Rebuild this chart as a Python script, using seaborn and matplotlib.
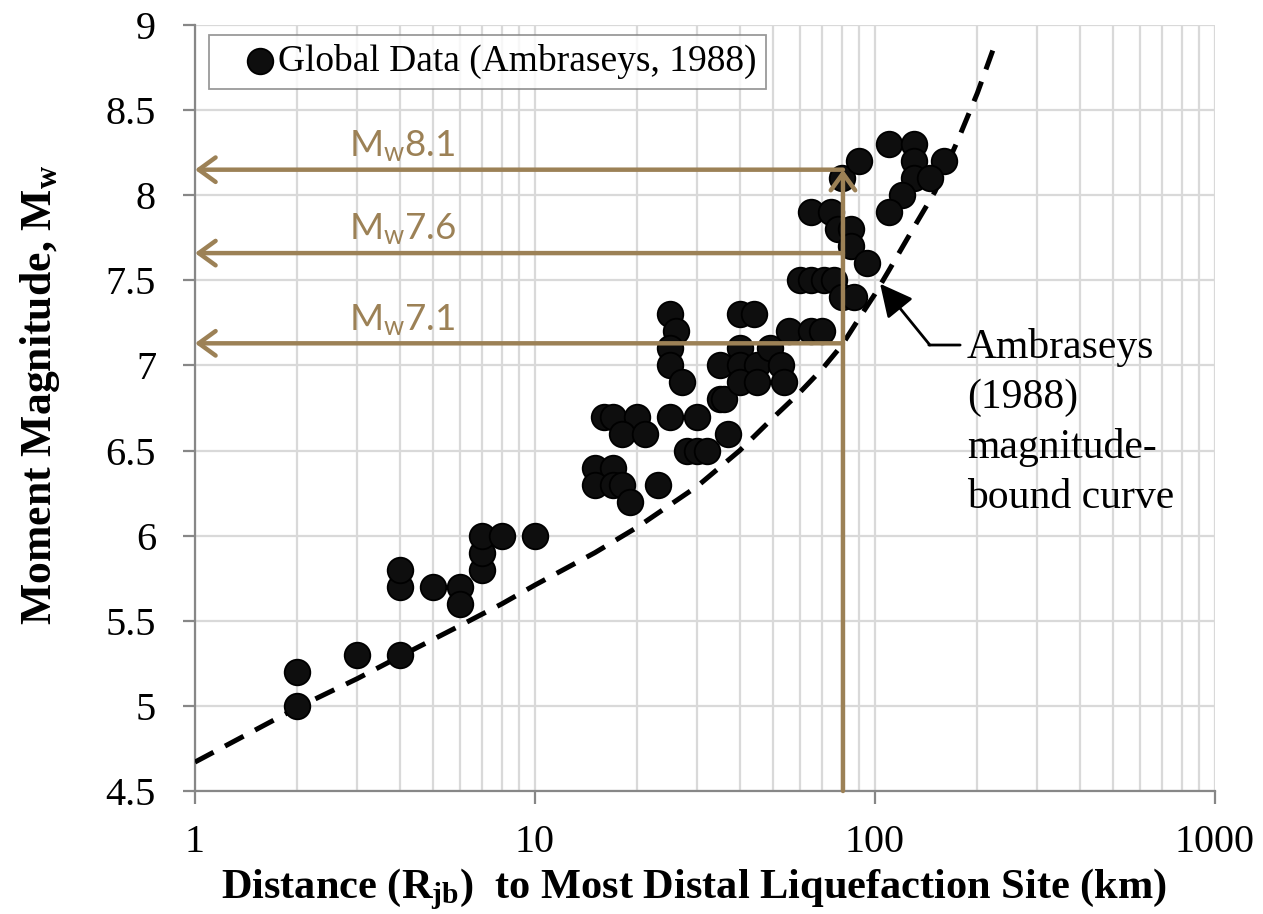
import numpy as np
import pandas as pd
import matplotlib
matplotlib.use("Agg")
import matplotlib.pyplot as plt
from matplotlib.ticker import LogLocator, NullFormatter
import seaborn as sns

# ---------------- data ----------------
dist_km = [2, 2, 3, 4, 4, 4, 5, 6, 6, 7, 7, 7, 8, 10,
           15, 17, 15, 17, 18, 19, 16, 17, 20, 18, 21, 23,
           25, 26, 25, 25, 27, 25, 30, 28, 30, 32, 35, 36, 37, 35,
           40, 44, 40, 40, 45, 40, 45, 49, 53, 54,
           56, 65, 70, 60, 65, 71, 76, 80, 87,
           65, 74, 78, 85, 85, 95, 80, 90,
           110, 130, 130, 160, 130, 145, 120, 110]
magnitude = [5.0, 5.2, 5.3, 5.3, 5.7, 5.8, 5.7, 5.7, 5.6, 5.8, 5.9, 6.0, 6.0, 6.0,
             6.4, 6.4, 6.3, 6.3, 6.3, 6.2, 6.7, 6.7, 6.7, 6.6, 6.6, 6.3,
             7.3, 7.2, 7.1, 7.0, 6.9, 6.7, 6.7, 6.5, 6.5, 6.5, 6.8, 6.8, 6.6, 7.0,
             7.3, 7.3, 7.1, 7.0, 7.0, 6.9, 6.9, 7.1, 7.0, 6.9,
             7.2, 7.2, 7.2, 7.5, 7.5, 7.5, 7.5, 7.4, 7.4,
             7.9, 7.9, 7.8, 7.8, 7.7, 7.6, 8.1, 8.2,
             8.3, 8.3, 8.2, 8.2, 8.1, 8.1, 8.0, 7.9]

# Ambraseys (1988) magnitude-bound curve
curve_dist = [1, 2, 3, 4, 6, 8, 10, 15, 20, 30, 40, 50, 60, 70, 80, 90,
              100, 110, 130, 150, 175, 200, 222]
curve_mag = [4.67, 4.99, 5.16, 5.29, 5.47, 5.60, 5.71, 5.90, 6.05, 6.29, 6.50,
             6.69, 6.84, 6.98, 7.12, 7.28, 7.42, 7.56, 7.81, 8.02, 8.32, 8.60, 8.85]

guide_dist = 80.5
guide_mags = [8.15, 7.66, 7.13]
guide_labels = ["8.1", "7.6", "7.1"]

x_ticks = [1, 10, 100, 1000]
x_tick_labels = ["1", "10", "100", "1000"]
y_ticks = [4.5, 5, 5.5, 6, 6.5, 7, 7.5, 8, 8.5, 9]
y_tick_labels = ["4.5", "5", "5.5", "6", "6.5", "7", "7.5", "8", "8.5", "9"]

legend_label = "Global Data (Ambraseys, 1988)"
curve_note = "Ambraseys\n(1988)\nmagnitude-\nbound curve"

# ---------------- style ----------------
sns.set_theme(style="white")
plt.rcParams["font.family"] = ["Liberation Serif", "DejaVu Serif"]
plt.rcParams["mathtext.fontset"] = "custom"
plt.rcParams["mathtext.rm"] = "Liberation Serif"
plt.rcParams["mathtext.bf"] = "Liberation Serif:bold"
plt.rcParams["mathtext.it"] = "Liberation Serif:italic"
plt.rcParams["mathtext.sf"] = "Lato"
plt.rcParams["text.color"] = "black"
plt.rcParams["axes.labelcolor"] = "black"
plt.rcParams["legend.labelcolor"] = "black"

TAN = "#9C8156"
GRID = "#d9d9d9"
SPINE = "#878787"

fig = plt.figure(figsize=(12.63, 9.14), dpi=100)
ax = fig.add_axes([195 / 1263, 1 - 791 / 914, 1020 / 1263, 766 / 914])

pts = pd.DataFrame({"dist": dist_km, "mag": magnitude})
crv = pd.DataFrame({"dist": curve_dist, "mag": curve_mag})

sns.lineplot(data=crv, x="dist", y="mag", ax=ax, color="black", linewidth=3.6,
             estimator=None, sort=False, legend=False, zorder=3,
             dashes=False)
ax.lines[-1].set_dashes([4.2, 2.6])

sns.scatterplot(data=pts, x="dist", y="mag", ax=ax, s=340, color="#0e0e0e",
                edgecolor="black", linewidth=1.3, label=legend_label, zorder=4)

ax.set_xscale("log")
ax.set_xlim(1, 1000)
ax.set_ylim(4.5, 9)
ax.set_xticks(x_ticks)
ax.set_xticklabels(x_tick_labels)
ax.set_yticks(y_ticks)
ax.set_yticklabels(y_tick_labels)
ax.xaxis.set_minor_locator(LogLocator(base=10, subs=range(2, 10)))
ax.xaxis.set_minor_formatter(NullFormatter())

ax.set_axisbelow(True)
ax.grid(True, which="both", axis="x", color=GRID, linewidth=1.6)
ax.grid(True, which="major", axis="y", color=GRID, linewidth=1.6)

for s in ["top", "right"]:
    ax.spines[s].set_visible(False)
for s in ["left", "bottom"]:
    ax.spines[s].set_color(SPINE)
    ax.spines[s].set_linewidth(1.6)

ax.tick_params(axis="both", which="major", direction="out", length=9, width=1.6,
               color=SPINE, labelsize=29, labelcolor="black", bottom=True, left=True)
ax.tick_params(axis="x", which="major", pad=15)
ax.tick_params(axis="y", which="major", pad=19)
ax.tick_params(axis="x", which="minor", length=0, bottom=False)

ax.set_xlabel("")
ax.set_ylabel("")
fig.text(693.5 / 1263, 1 - 898 / 914,
         r"Distance (R$_{\mathbf{jb}}$)  to Most Distal Liquefaction Site (km)",
         ha="center", va="baseline", fontsize=30.5, fontweight="bold", color="black")
fig.text(40 / 1263, 1 - 395 / 914, r"Moment Magnitude, M$_{\mathbf{w}}$",
         ha="center", va="center", rotation=90, fontsize=31.5, fontweight="bold",
         color="black")

# guide arrows (tan)
arrow_kw = dict(arrowstyle="->,head_length=0.55,head_width=0.4", color=TAN, lw=3.2,
                shrinkA=0, shrinkB=0, mutation_scale=22)
for m, lab in zip(guide_mags, guide_labels):
    ax.annotate("", xy=(1, m), xytext=(guide_dist, m), arrowprops=arrow_kw,
                annotation_clip=False, zorder=6)
    ax.text(2.84, m + 0.077, r"M$_{\mathsf{w}}$" + lab, color=TAN, fontsize=26.5,
            family="Lato", ha="left", va="baseline", zorder=6)
ax.annotate("", xy=(guide_dist, guide_mags[0]), xytext=(guide_dist, 4.5),
            arrowprops=arrow_kw, annotation_clip=False, zorder=6)

# curve note
ax.annotate("", xy=(103.5, 7.48), xytext=(145, 7.12),
            arrowprops=dict(arrowstyle="-|>,head_length=1.0,head_width=0.5",
                            color="black", lw=2, shrinkA=0, shrinkB=0,
                            mutation_scale=20), zorder=7)
ax.annotate("", xy=(178, 7.12), xytext=(144, 7.12),
            arrowprops=dict(arrowstyle="-", color="black", lw=2, shrinkA=0, shrinkB=0),
            zorder=7)
ax.text(186, 7.22, curve_note, fontsize=30, ha="left", va="top",
        linespacing=1.38, zorder=7, color="black")

leg = ax.legend(loc="upper left", bbox_to_anchor=(0.0137, 0.987), frameon=True,
                fancybox=False, edgecolor="#808080", fontsize=27,
                borderpad=0.25, handlelength=2.2, handletextpad=-0.6,
                borderaxespad=0)
leg.get_frame().set_linewidth(1.3)
leg.set_zorder(8)
for t in leg.get_texts():
    t.set_color("black")

fig.savefig("out.png", dpi=100)
